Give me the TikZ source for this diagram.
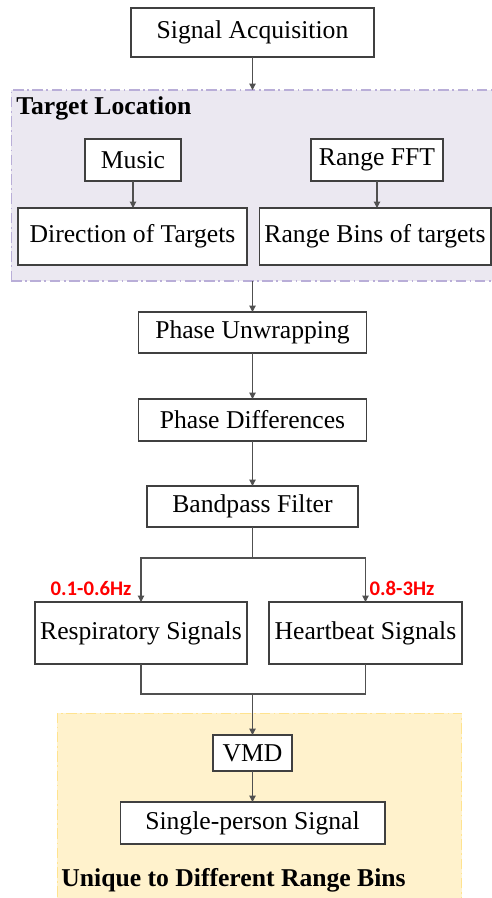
\documentclass[tikz,border=0pt]{standalone}
\usepackage{fontspec}
\setmainfont{Liberation Serif}
\newfontfamily\lblfont{Carlito}
\usepackage{xcolor}
\usepackage{tikz}
\usetikzlibrary{
  arrows.meta,
  positioning,
  calc
}
\definecolor{locfill}{HTML}{EBE8F1}
\definecolor{locdraw}{HTML}{B9AED8}
\definecolor{uniqfill}{HTML}{FFF2CC}
\definecolor{uniqdraw}{HTML}{FFE38F}
\definecolor{linegray}{HTML}{505050}
\newcommand{\boxfont}{\fontsize{14.6}{17}\selectfont}

\begin{document}
\begin{tikzpicture}[
  x=0.02cm, y=-0.02cm,
  blk/.style={draw=black!75, fill=white, line width=0.6pt,
              inner sep=0pt, outer sep=0pt, font=\boxfont, align=center},
  region/.style={line width=0.6pt, inner sep=0pt, outer sep=0pt,
                 dash pattern=on 6pt off 2pt on 1pt off 2pt},
  ttl/.style={font=\boxfont\bfseries, inner sep=0pt, anchor=west},
  arrow/.style={-{Triangle[length=3.6pt, width=3.6pt]}, line width=0.6pt, linegray},
  link/.style={line width=0.6pt, linegray},
  freq/.style={font=\lblfont\fontsize{11.8}{13}\selectfont\bfseries, text=red},
]
  \useasboundingbox (0,0) rectangle (492,898);
  \clip (0,0) rectangle (492,898);

  % grouped areas
  \node[region, draw=locdraw, fill=locfill, minimum width=10.2cm,
        minimum height=3.82cm] (loc) at (266,185.5) {};
  \node[region, draw=uniqdraw, fill=uniqfill, minimum width=8.10cm,
        minimum height=4.3cm] (uniq) at (259.5,820.5) {};
  \node[ttl] (loctitle) at (16,108) {Target Location};
  \node[ttl] (uniqtitle) at (61,880) {Unique to Different Range Bins};

  \node[blk, minimum width=4.86cm, minimum height=0.98cm] (acq) at (252.5,32.5) {Signal Acquisition};
  \node[blk, minimum width=1.92cm, minimum height=0.84cm] (music) at (133,160) {Music};
  \node[blk, minimum width=2.64cm, minimum height=0.84cm] (fft) at (377,160) {Range FFT};
  \node[blk, minimum width=4.58cm, minimum height=1.14cm] (dir) at (132.5,236.5) {Direction of Targets};
  \node[blk, minimum width=4.64cm, minimum height=1.14cm] (bins) at (375,236.5) {Range Bins of targets};
  \node[blk, minimum width=4.56cm, minimum height=0.82cm] (unwrap) at (252.5,332.5) {Phase Unwrapping};
  \node[blk, minimum width=4.56cm, minimum height=0.84cm] (diff) at (252.5,420) {Phase Differences};
  \node[blk, minimum width=4.22cm, minimum height=0.82cm] (bpf) at (252.5,506.5) {Bandpass Filter};
  \node[blk, minimum width=4.24cm, minimum height=1.24cm] (resp) at (141,633) {Respiratory Signals};
  \node[blk, minimum width=3.86cm, minimum height=1.24cm] (heart) at (365.5,633) {Heartbeat Signals};
  \node[blk, minimum width=1.58cm, minimum height=0.72cm] (vmd) at (252.5,753) {VMD};
  \node[blk, minimum width=5.30cm, minimum height=0.84cm] (single) at (252.5,823) {Single-person Signal};

  \node[freq] (resplbl) at (91,588) {0.1-0.6Hz};
  \node[freq] (heartlbl) at (402,588) {0.8-3Hz};

  \coordinate (split) at (252.5,558);
  \coordinate (merge) at (252.5,694);

  \draw[arrow] (acq.south) -- (acq.south |- loc.north);
  \draw[arrow] (music.south) -- (music.south |- dir.north);
  \draw[arrow] (fft.south) -- (fft.south |- bins.north);
  \draw[arrow] (unwrap.north |- loc.south) -- (unwrap.north);
  \draw[arrow] (unwrap) -- (diff);
  \draw[arrow] (diff) -- (bpf);

  \draw[link] (bpf.south) -- (split);
  \draw[arrow] (split) -| (resp.north);
  \draw[arrow] (split) -| (heart.north);

  \draw[link] (resp.south) |- (merge);
  \draw[link] (heart.south) |- (merge);
  \draw[arrow] (merge) -- (vmd.north);
  \draw[arrow] (vmd) -- (single);
\end{tikzpicture}
\end{document}
